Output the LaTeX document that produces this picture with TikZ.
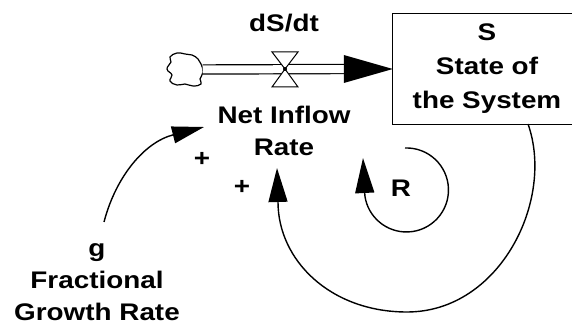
\documentclass[tikz,border=0pt]{standalone}
\usepackage{fontspec}
\setmainfont{Liberation Sans}[FakeStretch=1.16]
\usetikzlibrary{arrows.meta,calc}
\begin{document}
\begin{tikzpicture}[x=1pt,y=-1pt,
  lbl/.style={font=\fontsize{24}{32}\selectfont\bfseries, inner sep=0pt, align=center},
  link/.style={line width=1.4pt},
  bigtip/.style={-{Triangle[length=34pt,width=19pt]}},
  pipe/.style={double distance=8pt, line width=1.2pt}]
\useasboundingbox (0,0) rectangle (572,328);
% stock (its right side lies beyond the picture)
\node[inner sep=0pt, minimum width=188pt, minimum height=110pt,
  font=\fontsize{24}{34}\selectfont\bfseries, align=center] (box) at (487,69) {S\\State of\\the System};
\draw[line width=1.3pt] (box.north east) -- (box.north west) -- (box.south west) -- (box.south east);
% cloud
\node[inner sep=0pt, minimum width=35pt, minimum height=33pt] (cloud) at (185,69.5) {};
\draw[line width=1.2pt] plot[smooth cycle, tension=0.8] coordinates {(170,57) (177,53) (185,54) (192,55) (198,59) (201,64) (203,72) (200,79) (201,84) (193,86) (185,84) (177,85) (170,81) (172,75) (167,69) (171,62)};
% pipe
\coordinate (pipeend) at ($(box.west)+(-47,0)$);
\draw[pipe] (cloud.east) -- (pipeend);
\fill (box.west) -- ($(box.west)+(-49,-14)$) -- ($(box.west)+(-49,14)$) -- cycle;
% valve
\coordinate (valve) at (285,69);
\filldraw[fill=white, line width=1pt] ($(valve)+(-13,-17)$) -- ($(valve)+(13,-17)$) -- (valve) -- cycle;
\filldraw[fill=white, line width=1pt] ($(valve)+(-13,18)$) -- ($(valve)+(13,18)$) -- (valve) -- cycle;
\fill (valve) circle (2pt);
% labels
\node[lbl] (dsdt) at (284,23) {dS/dt};
\node[lbl] (rate) at (284,131) {Net Inflow\\Rate};
\node[lbl] (g) at (97,282) {g\\Fractional\\Growth Rate};
\node[lbl] (R) at (401,188) {R};
\node[lbl] (p1) at (202,159) {+};
\node[lbl] (p2) at (242,187) {+};
% link g -> rate
\coordinate (gtop) at (104,222);
\coordinate (ratein) at (204,127);
\draw[link, -{Triangle[length=32pt,width=17pt]}] (gtop) .. controls (116,176) and (145,142) .. (ratein);
% link S -> rate
\coordinate (sout) at (528,124);
\coordinate (ratein2) at (277,168);
\draw[link, bigtip] (sout) .. controls (555,200) and (500,312) .. (407,312)
  .. controls (330,312) and (278,260) .. (278,202) -- (ratein2);
% loop marker
\draw[link, -{Triangle[length=35pt,width=19pt]}] ($(R)+(4,-40)$) arc[start angle=92, end angle=-172, radius=42pt] -- ($(R)+(-38,-30)$);
\end{tikzpicture}
\end{document}
